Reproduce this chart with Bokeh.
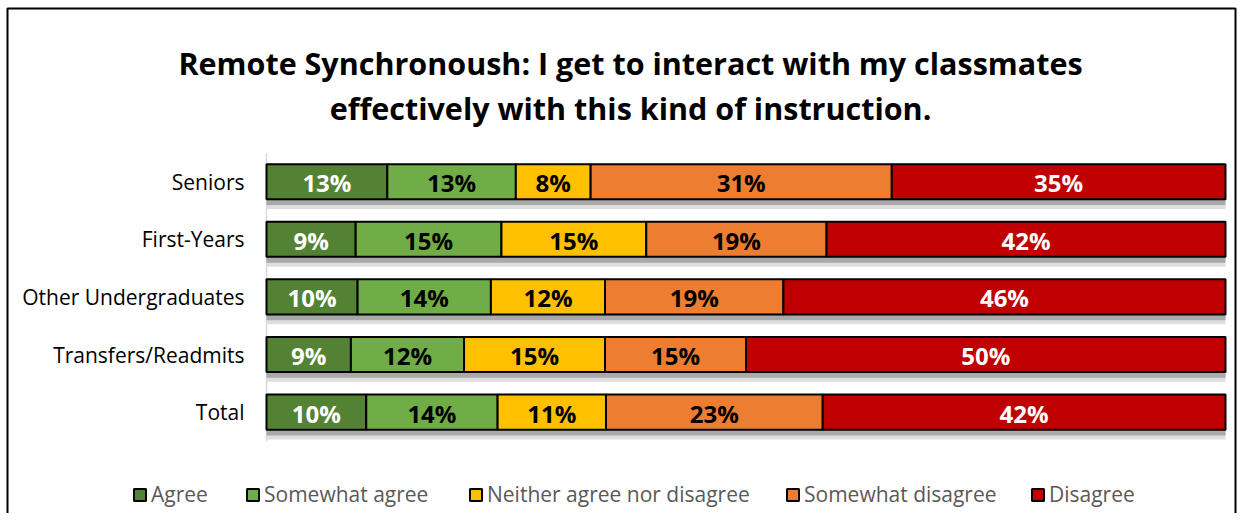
from bokeh.plotting import figure
from bokeh.models import ColumnDataSource, Range1d, Label, Legend, LegendItem
from bokeh.transform import dodge
from bokeh.core.properties import value
from bokeh.embed import file_html
from bokeh.resources import INLINE

groups = ["Seniors", "First-Years", "Other Undergraduates", "Transfers/Readmits", "Total"]
responses = ["Agree", "Somewhat agree", "Neither agree nor disagree", "Somewhat disagree", "Disagree"]
agree = [12.6, 9.3, 9.5, 8.8, 10.4]
somewhat_agree = [13.4, 15.2, 13.9, 11.8, 13.7]
neither = [7.8, 15.1, 11.9, 14.7, 11.3]
somewhat_disagree = [31.4, 18.8, 18.6, 14.7, 22.6]
disagree = [34.8, 41.6, 46.1, 50.0, 42.0]
colors = ["#548235", "#70AD47", "#FFC000", "#ED7D31", "#C00000"]
label_colors = ["#FFFFFF", "#000000", "#000000", "#000000", "#FFFFFF"]
title_lines = ["Remote Synchronoush: I get to interact with my classmates",
               "effectively with this kind of instruction."]

series = [agree, somewhat_agree, neither, somewhat_disagree, disagree]

# ---- pixel layout (canvas coordinates, from top-left) ----
W, H = 1238, 513
PX_LEFT, PX_RIGHT = 266, 1225      # where 0% and 100% fall
ROW_TOP, ROW_H = 152.4, 57.6       # top of first category band, band height
n = len(groups)
ypos = [n - 1 - i for i in range(n)]   # Seniors at top

px_per_x = (PX_RIGHT - PX_LEFT) / 100.0
x_start = -PX_LEFT / px_per_x
x_end = 100 + (W - PX_RIGHT) / px_per_x
center_top = ROW_TOP + ROW_H / 2        # pixel y of the top row centre (y = n-1)
y_end = (n - 1) + center_top / ROW_H
y_start = (n - 1) - (H - center_top) / ROW_H


def dx(px):
    return x_start + px / px_per_x


def dy(py):
    return y_end - py / ROW_H


p = figure(x_range=Range1d(x_start, x_end), y_range=Range1d(y_start, y_end),
           width=W, height=H, output_backend="svg", toolbar_location=None,
           min_border=0, min_border_left=0, min_border_right=0,
           min_border_top=0, min_border_bottom=0)
p.outline_line_color = None
p.xgrid.visible = False
p.ygrid.visible = False
p.xaxis.visible = False
p.yaxis.visible = False

# chart border (open at the bottom, as in the reference)
p.line(x=[dx(7), dx(7), dx(W - 3), dx(W - 3)], y=[dy(H), dy(8), dy(8), dy(H)],
       line_color="#000000", line_width=2)

# category axis line
p.segment(x0=[0], y0=[-0.5], x1=[0], y1=[n - 0.5], line_color="#d9d9d9", line_width=1.5)

BAR_H = 0.61

# shadows
shadow_src = ColumnDataSource(dict(y=ypos, left=[0] * n, right=[100] * n))
p.hbar(y=dodge("y", -0.17), left="left", right="right", height=BAR_H,
       source=shadow_src, fill_color="#dedede", line_color=None)
p.hbar(y=dodge("y", -0.1), left="left", right="right", height=BAR_H,
       source=shadow_src, fill_color="#a9a9a9", line_color=None)

cum = [0.0] * n
renderers = []
for i, vals in enumerate(series):
    left = cum[:]
    right = [l + v for l, v in zip(left, vals)]
    cum = right
    src = ColumnDataSource(dict(
        y=ypos, left=left, right=right,
        mid=[(l + r) / 2 for l, r in zip(left, right)],
        lab=[f"{v:.0f}%" for v in vals]))
    r = p.hbar(y="y", left="left", right="right", height=BAR_H, source=src,
               fill_color=colors[i], line_color="#000000", line_width=2)
    renderers.append(r)
    p.text(x="mid", y="y", text="lab", source=src, y_offset=1,
           text_align="center", text_baseline="middle",
           text_font=value("Open Sans"), text_font_style="bold",
           text_font_size="24px", text_color=label_colors[i])

# category labels
cat_src = ColumnDataSource(dict(x=[0] * n, y=ypos, name=groups))
p.text(x="x", y="y", text="name", source=cat_src, x_offset=-22,
       text_align="right", text_baseline="middle",
       text_font=value("Open Sans"), text_font_size="21px", text_color="#000000")

# title
for t, base in zip(title_lines, [62, 107]):
    p.add_layout(Label(x=630, y=H - base, x_units="screen", y_units="screen", text=t,
                       text_align="center", text_baseline="alphabetic",
                       text_font="Open Sans", text_font_style="bold",
                       text_font_size="30.5px", text_color="#000000"))

# legend (one entry per legend so each sits where the reference has it)
legend_px = [132, 245, 468, 785, 1030]
for i, r in enumerate(renderers):
    leg = Legend(items=[LegendItem(label=value(responses[i]), renderers=[r])],
                 location=(legend_px[i], H - 508), orientation="horizontal",
                 padding=0, margin=0, glyph_width=15, glyph_height=15, label_standoff=4,
                 label_text_font="Open Sans", label_text_font_size="21px",
                 label_text_color="#595959", background_fill_alpha=0,
                 border_line_alpha=0)
    p.add_layout(leg)

open("out.html", "w").write(file_html(p, INLINE))
